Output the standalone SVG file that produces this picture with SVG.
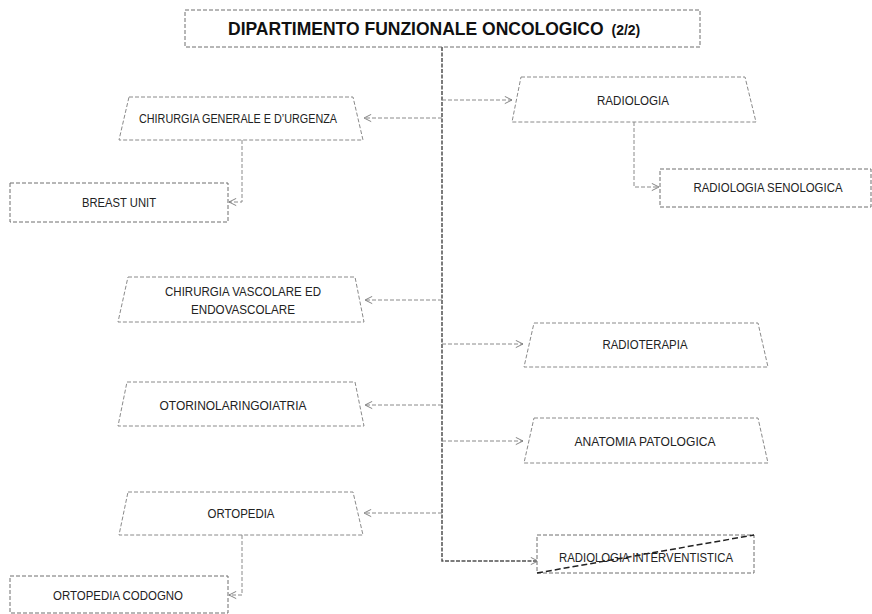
<svg xmlns="http://www.w3.org/2000/svg" width="872" height="614" viewBox="0 0 872 614">
<defs>
<style>
.box{fill:#fff;stroke:#8a8a8a;stroke-width:1;stroke-dasharray:4,2}
.rbox{fill:#fff;stroke:#6e6e6e;stroke-width:1;stroke-dasharray:4,2}
.ln{fill:none;stroke:#8a8a8a;stroke-width:1;stroke-dasharray:4,2}
.trunk{fill:none;stroke:#505050;stroke-width:1.5;stroke-dasharray:4,1.5}
.t{font-family:"Liberation Sans",Arial,sans-serif;font-size:12.5px;fill:#222;text-anchor:middle}
.title{font-family:"Liberation Sans",Arial,sans-serif;font-weight:bold;fill:#111}
</style>
<marker id="ah" viewBox="0 0 10 10" refX="9" refY="5" markerWidth="9" markerHeight="9" markerUnits="userSpaceOnUse" orient="auto">
<path d="M1,1 L9,5 L1,9" fill="none" stroke="#777" stroke-width="1"/>
</marker>
</defs>

<g id="connectors">
<path class="trunk" d="M442,47 V561 H536"/>
<path class="ln" d="M442,118 H364" marker-end="url(#ah)"/>
<path class="ln" d="M442,100 H512" marker-end="url(#ah)"/>
<path class="ln" d="M242,140 V202 H229" marker-end="url(#ah)"/>
<path class="ln" d="M634,122 V187 H659" marker-end="url(#ah)"/>
<path class="ln" d="M442,300 H365" marker-end="url(#ah)"/>
<path class="ln" d="M442,344 H523" marker-end="url(#ah)"/>
<path class="ln" d="M442,405 H365" marker-end="url(#ah)"/>
<path class="ln" d="M442,441 H523" marker-end="url(#ah)"/>
<path class="ln" d="M442,513 H364" marker-end="url(#ah)"/>
<path class="ln" d="M242,535 V595 H229" marker-end="url(#ah)"/>
<path d="M536,561 L538,561" fill="none" stroke="#777" marker-end="url(#ah)"/>
</g>

<g id="title">
<rect class="rbox" x="185" y="10" width="515" height="37"/>
<text class="title" x="228" y="35" font-size="17.5">DIPARTIMENTO FUNZIONALE ONCOLOGICO <tspan font-size="14" dx="3">(2/2)</tspan></text>
</g>

<g id="chirurgia-generale">
<polygon class="box" points="129,97 353,97 363,140 119,140"/>
<text class="t" x="238" y="122.5" textLength="198" lengthAdjust="spacingAndGlyphs">CHIRURGIA GENERALE E D’URGENZA</text>
</g>

<g id="breast-unit">
<rect class="rbox" x="10" y="183" width="218" height="39"/>
<text class="t" x="119" y="206.5" textLength="74" lengthAdjust="spacingAndGlyphs">BREAST UNIT</text>
</g>

<g id="radiologia">
<polygon class="box" points="521,77 745,77 756,122 512,122"/>
<text class="t" x="633" y="104.5" textLength="72" lengthAdjust="spacingAndGlyphs">RADIOLOGIA</text>
</g>

<g id="radiologia-senologica">
<rect class="rbox" x="660" y="169" width="211" height="38"/>
<text class="t" x="768" y="191.5" textLength="149" lengthAdjust="spacingAndGlyphs">RADIOLOGIA SENOLOGICA</text>
</g>

<g id="chirurgia-vascolare">
<polygon class="box" points="128,277 355,277 364,322 118,322"/>
<text class="t" x="243" y="295.5" textLength="156" lengthAdjust="spacingAndGlyphs">CHIRURGIA VASCOLARE ED</text>
<text class="t" x="243" y="313.5" textLength="104" lengthAdjust="spacingAndGlyphs">ENDOVASCOLARE</text>
</g>

<g id="otorinolaringoiatria">
<polygon class="box" points="127,382 355,382 364,426 118,426"/>
<text class="t" x="233" y="409.5" textLength="147" lengthAdjust="spacingAndGlyphs">OTORINOLARINGOIATRIA</text>
</g>

<g id="radioterapia">
<polygon class="box" points="534,323 758,323 768,367 524,367"/>
<text class="t" x="645" y="348.5" textLength="85" lengthAdjust="spacingAndGlyphs">RADIOTERAPIA</text>
</g>

<g id="anatomia-patologica">
<polygon class="box" points="534,418 758,418 768,463 524,463"/>
<text class="t" x="645" y="445.5" textLength="141" lengthAdjust="spacingAndGlyphs">ANATOMIA PATOLOGICA</text>
</g>

<g id="ortopedia">
<polygon class="box" points="128,492 353,492 363,535 119,535"/>
<text class="t" x="241" y="517.5" textLength="67" lengthAdjust="spacingAndGlyphs">ORTOPEDIA</text>
</g>

<g id="ortopedia-codogno">
<rect class="rbox" x="10" y="576" width="218" height="37"/>
<text class="t" x="118" y="599.5" textLength="130" lengthAdjust="spacingAndGlyphs">ORTOPEDIA CODOGNO</text>
</g>

<g id="radiologia-interventistica">
<rect class="rbox" x="537" y="535" width="217" height="38"/>
<text class="t" x="646" y="561.5" textLength="174" lengthAdjust="spacingAndGlyphs">RADIOLOGIA INTERVENTISTICA</text>
<line x1="537" y1="573" x2="754" y2="535" stroke="#222" stroke-width="1.5" stroke-dasharray="6,3"/>
</g>
</svg>
